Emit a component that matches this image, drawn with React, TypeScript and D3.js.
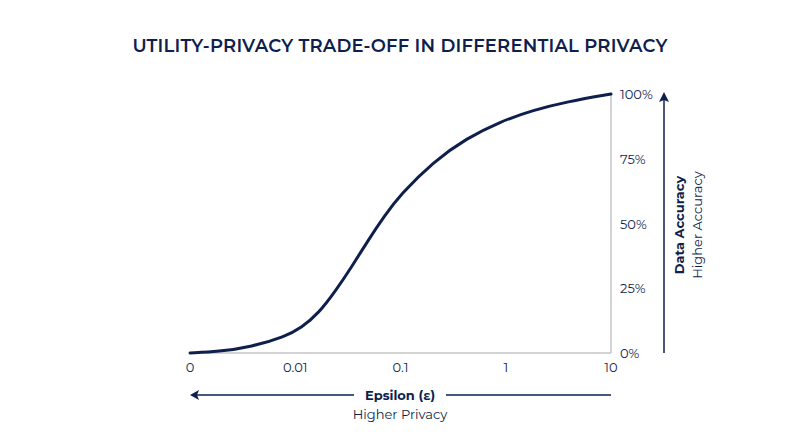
import React from "react";
import * as d3 from "d3";

const epsilon = [0.001, 0.00186, 0.00385, 0.008, 0.0115, 0.0166, 0.0239, 0.0344, 0.0494, 0.0713, 0.099, 0.205, 0.425, 0.881, 1.83, 3.79, 10];
const accuracy = [0, 0.5, 2.4, 6.3, 9.8, 15.3, 23.7, 33.3, 43.6, 53.2, 61.0, 73.9, 82.9, 89.3, 93.8, 97.0, 100];
const xTickValues = [0.001, 0.01, 0.1, 1, 10];
const xTickLabels = ["0", "0.01", "0.1", "1", "10"];
const yTickValues = [0, 25, 50, 75, 100];

const NAVY = "#0f1f4d";
const FONT = "Montserrat, 'Open Sans', Lato, sans-serif";

export default function App() {
  const W = 800, H = 447;
  const left = 190, right = 611, top = 94, bottom = 353;
  const x = d3.scaleLog().domain([0.001, 10]).range([left, right]);
  const y = d3.scaleLinear().domain([0, 100]).range([bottom, top]);
  const pts = epsilon.map((e, i) => [e, accuracy[i]] as [number, number]);
  const line = d3.line<[number, number]>().x(d => x(d[0])).y(d => y(d[1])).curve(d3.curveBasis);
  const arrowY = 395;
  const vx = 664;
  return (
    <svg width={W} height={H} style={{ display: "block", position: "absolute", left: 0, top: 0, background: "#fff" }} fontFamily={FONT}>
      <rect width={W} height={H} fill="#fff" />
      <text x={400} y={52} textAnchor="middle" fontSize={18} fontWeight={600} fill={NAVY} letterSpacing={0.2}>
        UTILITY-PRIVACY TRADE-OFF IN DIFFERENTIAL PRIVACY
      </text>
      {/* axes */}
      <line x1={left} x2={right} y1={bottom} y2={bottom} stroke="#c4c4c4" strokeWidth={1.5} />
      <line x1={right} x2={right} y1={top} y2={bottom} stroke="#c4c4c4" strokeWidth={1.5} />
      <path d={line(pts) || ""} fill="none" stroke={NAVY} strokeWidth={3} strokeLinecap="round" />
      {xTickValues.map((v, i) => (
        <text key={i} x={x(v)} y={372} textAnchor="middle" fontSize={13} fill={NAVY}>{xTickLabels[i]}</text>
      ))}
      {yTickValues.map((v, i) => (
        <text key={i} x={620} y={y(v) + 5} textAnchor="start" fontSize={13} fill={NAVY}>{v}%</text>
      ))}
      {/* horizontal arrow */}
      <line x1={left + 4} x2={354} y1={arrowY} y2={arrowY} stroke={NAVY} strokeWidth={1.5} />
      <line x1={446} x2={right} y1={arrowY} y2={arrowY} stroke={NAVY} strokeWidth={1.5} />
      <path d={`M${left},${arrowY} L${left + 9},${arrowY - 5} L${left + 7},${arrowY} L${left + 9},${arrowY + 5} Z`} fill={NAVY} />
      <text x={400} y={arrowY + 5} textAnchor="middle" fontSize={13} fontWeight={700} fill={NAVY}>Epsilon (ε)</text>
      <text x={400} y={419} textAnchor="middle" fontSize={13} fill={NAVY}>Higher Privacy</text>
      {/* vertical arrow */}
      <line x1={vx} x2={vx} y1={bottom} y2={top + 4} stroke={NAVY} strokeWidth={1.5} />
      <path d={`M${vx},${top - 2} L${vx - 5},${top + 8} L${vx},${top + 6} L${vx + 5},${top + 8} Z`} fill={NAVY} />
      <text transform={`translate(684,225) rotate(-90)`} textAnchor="middle" fontSize={13} fontWeight={700} fill={NAVY}>Data Accuracy</text>
      <text transform={`translate(702,225) rotate(-90)`} textAnchor="middle" fontSize={13} fill={NAVY}>Higher Accuracy</text>
    </svg>
  );
}
